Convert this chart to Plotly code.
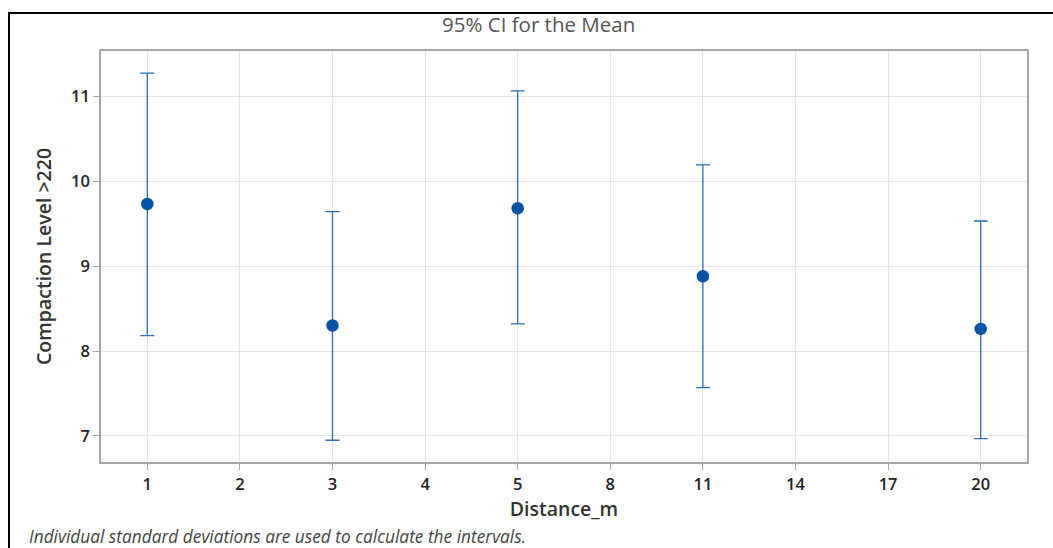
import plotly.graph_objects as go

categories = ["1", "2", "3", "4", "5", "8", "11", "14", "17", "20"]
x_groups = ["1", "3", "5", "11", "20"]
means = [9.73, 8.30, 9.68, 8.88, 8.26]
upper = [11.27, 9.64, 11.06, 10.19, 9.53]
lower = [8.18, 6.95, 8.32, 7.57, 6.97]

err_plus = [u - m for u, m in zip(upper, means)]
err_minus = [m - l for m, l in zip(means, lower)]

L, R, T, B = 101, 26, 51, 86
W, H = 1053, 548
pw, ph = W - L - R, H - T - B

def px(x):
    return (x - L) / pw

def py(y):
    return (H - B - y) / ph

fig = go.Figure()
fig.add_trace(go.Scatter(
    x=x_groups, y=means, mode="markers",
    marker=dict(color="#0054a6", size=12.5, symbol="circle"),
    error_y=dict(type="data", symmetric=False, array=err_plus, arrayminus=err_minus,
                 color="#2a6ebb", thickness=1.3, width=7),
    showlegend=False, hoverinfo="x+y",
))

axis_font = dict(family="Open Sans", size=16.5, color="#222222", weight=600)
title_font = dict(family="Open Sans", size=19.5, color="#333333", weight=600)
fig.update_layout(
    width=W, height=H,
    margin=dict(l=L, r=R, t=T, b=B),
    paper_bgcolor="white", plot_bgcolor="white",
    font=dict(family="Open Sans"),
    xaxis=dict(
        type="category", categoryorder="array", categoryarray=categories,
        tickvals=categories, range=[-0.5, len(categories) - 0.5],
        showgrid=True, gridcolor="#e6e6e6", gridwidth=1,
        showline=True, linecolor="#a6a6a6", linewidth=1.5, mirror=True,
        ticks="outside", ticklen=6, tickcolor="#a6a6a6",
        tickfont=axis_font,
        title=dict(text="Distance_m", font=title_font, standoff=7),
        zeroline=False,
    ),
    yaxis=dict(
        range=[6.694, 11.53], tickvals=[7, 8, 9, 10, 11],
        showgrid=True, gridcolor="#e6e6e6", gridwidth=1,
        showline=True, linecolor="#a6a6a6", linewidth=1.5, mirror=True,
        ticks="outside", ticklen=6, tickcolor="#a6a6a6",
        tickfont=axis_font,
        title=dict(text="Compaction Level >220", font=title_font, standoff=14),
        zeroline=False,
    ),
    annotations=[
        dict(text="95% CI for the Mean", xref="paper", yref="paper",
             x=px(538), y=py(24), xanchor="center", yanchor="middle", showarrow=False,
             font=dict(family="Open Sans", size=20.5, color="#555555")),
        dict(text="<i>Individual standard deviations are used to calculate the intervals.</i>",
             xref="paper", yref="paper", x=px(27), y=py(536), xanchor="left", yanchor="middle",
             showarrow=False, font=dict(family="Open Sans", size=17.3, color="#444444")),
    ],
    shapes=[
        dict(type="rect", xref="paper", yref="paper",
             x0=px(9), y0=py(560), x1=px(1070), y1=py(13),
             line=dict(color="#000000", width=2), fillcolor="rgba(0,0,0,0)", layer="below"),
    ],
)

fig.write_html("out.html")
